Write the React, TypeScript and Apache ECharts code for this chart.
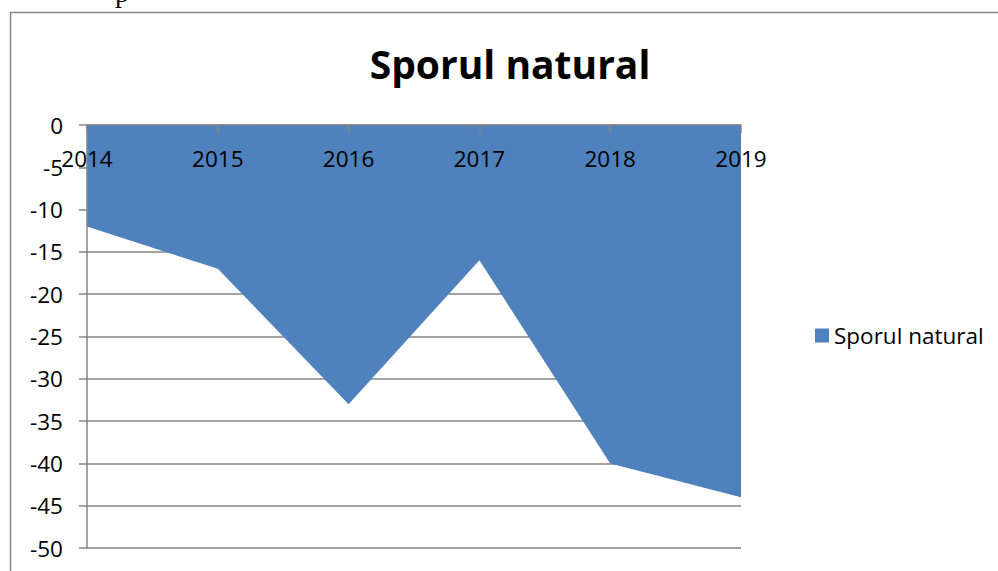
import React, { useEffect, useRef } from "react";
import * as echarts from "echarts";

const categories = ["2014", "2015", "2016", "2017", "2018", "2019"];
const sporulValues = [-12, -17, -33, -16, -40, -44];
const seriesName = "Sporul natural";
const titleText = "Sporul natural";

const FONT = "'Open Sans', 'Noto Sans', sans-serif";
const GREY = "#868686";

export default function App() {
  const ref = useRef<HTMLDivElement>(null);
  useEffect(() => {
    if (!ref.current) return;
    const chart = echarts.init(ref.current, null, { renderer: "svg" });
    chart.setOption({
      animation: false,
      backgroundColor: "#ffffff",
      grid: { left: 87, top: 125, right: 257, bottom: 23, containLabel: false },
      legend: {
        data: [seriesName],
        left: 810,
        top: 319,
        orient: "vertical",
        icon: "rect",
        itemWidth: 14,
        itemHeight: 14,
        itemGap: 8,
        textStyle: { fontFamily: FONT, fontSize: 22.5, color: "#000" },
      },
      xAxis: {
        type: "category",
        data: categories,
        boundaryGap: false,
        position: "top",
        z: 10,
        axisLine: { show: true, lineStyle: { color: GREY, width: 1.5 } },
        axisTick: { show: true, inside: true, length: 8, lineStyle: { color: GREY, width: 1.5 } },
        axisLabel: {
          inside: true,
          margin: 22,
          fontFamily: FONT,
          fontSize: 22.5,
          color: "#000",
          verticalAlign: "top",
        },
        splitLine: { show: false },
      },
      yAxis: [
        {
          type: "value",
          min: -50,
          max: 0,
          interval: 5,
          z: 10,
          axisLine: { show: true, lineStyle: { color: GREY, width: 1.5 } },
          axisTick: { show: true, length: 8, lineStyle: { color: GREY, width: 1.5 } },
          axisLabel: { margin: 24, fontFamily: FONT, fontSize: 22.5, color: "#000" },
          splitLine: { show: false },
        },
        {
          type: "value",
          min: -50,
          max: 0,
          interval: 5,
          position: "left",
          z: 0,
          axisLine: { show: false },
          axisTick: { show: false },
          axisLabel: { show: false },
          splitLine: { show: true, lineStyle: { color: GREY, width: 1.5 } },
        },
      ],
      series: [
        {
          name: seriesName,
          type: "line",
          data: sporulValues,
          showSymbol: false,
          symbol: "none",
          lineStyle: { width: 0, color: "#4F81BD" },
          itemStyle: { color: "#4F81BD" },
          areaStyle: { color: "#4F81BD", opacity: 1, origin: "end" },
          z: 2,
        },
      ],
      graphic: [
        {
          type: "line",
          shape: { x1: 10, y1: 12.5, x2: 998, y2: 12.5 },
          style: { stroke: GREY, lineWidth: 1.5 },
        },
        {
          type: "line",
          shape: { x1: 10.5, y1: 12, x2: 10.5, y2: 571 },
          style: { stroke: GREY, lineWidth: 1.5 },
        },
        {
          type: "text",
          x: 510,
          y: 63,
          style: {
            text: titleText,
            fontFamily: FONT,
            fontWeight: "bold",
            fontSize: 39,
            fill: "#000",
            align: "center",
            verticalAlign: "middle",
          },
        },
        {
          type: "text",
          x: 122,
          y: -8,
          style: {
            text: "p",
            fontFamily: "'Liberation Serif', serif",
            fontSize: 28,
            fill: "#000",
            align: "center",
            verticalAlign: "middle",
          },
        },
      ],
    });
    return () => chart.dispose();
  }, []);
  return (
    <div
      ref={ref}
      style={{ position: "fixed", left: 0, top: 0, width: 998, height: 571 }}
    />
  );
}
